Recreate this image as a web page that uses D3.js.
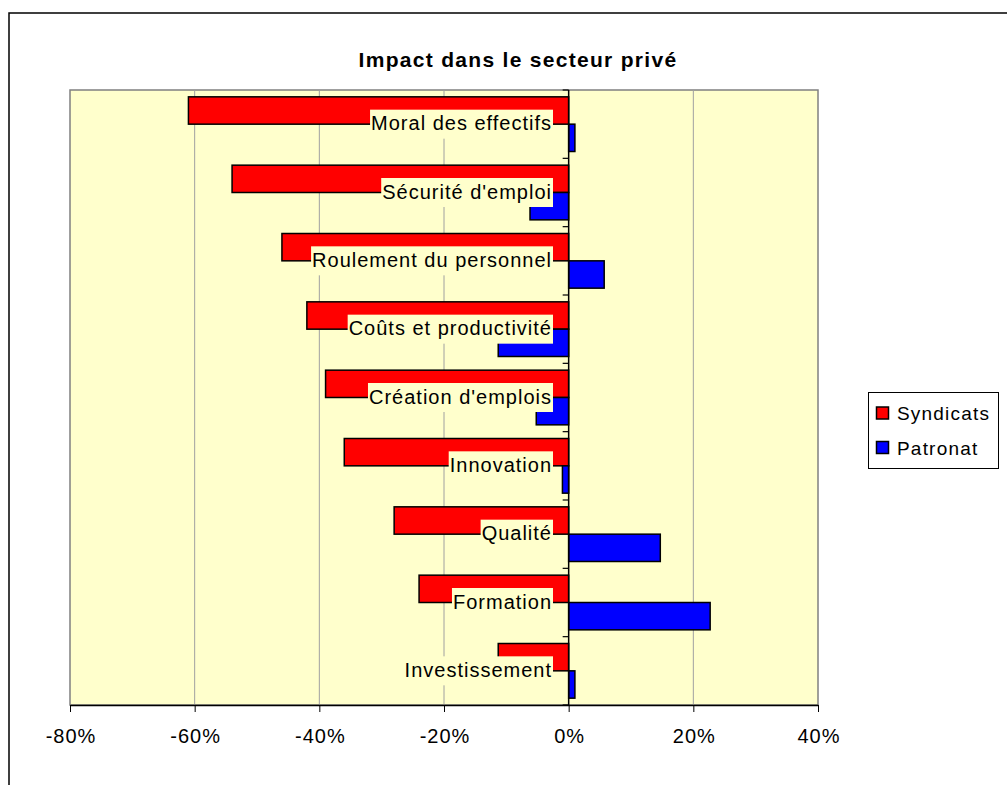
<!DOCTYPE html>
<html>
<head>
<meta charset="utf-8">
<script src="https://cdn.jsdelivr.net/npm/d3@7"></script>
<style>
  body { margin: 0; background: #fff; }
  svg { display: block; font-family: "Liberation Sans", Arial, sans-serif; }
</style>
</head>
<body>
<svg id="chart" width="1007" height="785"></svg>
<script>
// data
const categories = ["Moral des effectifs", "Sécurité d'emploi", "Roulement du personnel",
  "Coûts et productivité", "Création d'emplois", "Innovation", "Qualité", "Formation", "Investissement"];
const syndicats = [-61, -54, -46, -42, -39, -36, -28, -24, -11.3];
const patronat = [1, -6.2, 5.7, -11.3, -5.2, -1, 14.7, 22.7, 1];
const xTicks = [-80, -60, -40, -20, 0, 20, 40];
const seriesNames = ["Syndicats", "Patronat"];
const seriesColors = ["#ff0000", "#0000ff"];

const svg = d3.select("#chart");

// outer chart frame (cut by the picture edges)
svg.append("rect")
  .attr("x", 9).attr("y", 13)
  .attr("width", 1100).attr("height", 900)
  .attr("fill", "#fff").attr("stroke", "#000").attr("stroke-width", 1.5);

const plot = { left: 70, right: 818, top: 90, bottom: 705 };

const x = d3.scaleLinear().domain([-80, 40]).range([plot.left, plot.right]);
const y = d3.scaleBand().domain(categories).range([plot.top, plot.bottom]).paddingInner(0).paddingOuter(0);

// title
svg.append("text")
  .attr("x", 518).attr("y", 67)
  .attr("text-anchor", "middle")
  .attr("font-size", 21).attr("font-weight", "bold")
  .attr("letter-spacing", 1.3)
  .text("Impact dans le secteur privé");

// plot background
svg.append("rect")
  .attr("x", plot.left).attr("y", plot.top)
  .attr("width", plot.right - plot.left).attr("height", plot.bottom - plot.top)
  .attr("fill", "#ffffcc").attr("stroke", "#808080").attr("stroke-width", 1.5);

// gridlines
svg.append("g")
  .selectAll("line")
  .data(xTicks.filter(d => d !== 0 && d !== -80 && d !== 40))
  .join("line")
  .attr("x1", d => x(d)).attr("x2", d => x(d))
  .attr("y1", plot.top).attr("y2", plot.bottom)
  .attr("stroke", "#a0a0a0").attr("stroke-width", 1);

// bars
const bandH = y.bandwidth();
const barH = bandH * 0.4;
const offset = (bandH - 2 * barH) / 2;

const rows = categories.map((c, i) => ({ cat: c, vals: [syndicats[i], patronat[i]] }));

const g = svg.append("g");
rows.forEach(r => {
  r.vals.forEach((v, k) => {
    g.append("rect")
      .attr("x", Math.min(x(0), x(v)))
      .attr("y", y(r.cat) + offset + k * barH)
      .attr("width", Math.abs(x(v) - x(0)))
      .attr("height", barH)
      .attr("fill", seriesColors[k])
      .attr("stroke", "#000").attr("stroke-width", 1.5);
  });
});

// zero axis with category ticks
svg.append("line")
  .attr("x1", x(0)).attr("x2", x(0))
  .attr("y1", plot.top).attr("y2", plot.bottom)
  .attr("stroke", "#000").attr("stroke-width", 1.5);
svg.append("g")
  .selectAll("line")
  .data(d3.range(categories.length + 1))
  .join("line")
  .attr("x1", x(0) - 6).attr("x2", x(0))
  .attr("y1", i => plot.top + i * bandH).attr("y2", i => plot.top + i * bandH)
  .attr("stroke", "#000").attr("stroke-width", 1.2);

// category labels with background boxes
const labels = svg.append("g");
categories.forEach(c => {
  const cy = y(c) + offset + barH;
  const t = labels.append("text")
    .attr("x", 552).attr("y", cy + 6)
    .attr("text-anchor", "end")
    .attr("font-size", 20)
    .attr("letter-spacing", 1)
    .text(c);
  const bb = t.node().getBBox();
  labels.insert("rect", () => t.node())
    .attr("x", bb.x - 1).attr("y", cy - 14.5)
    .attr("width", bb.width + 2).attr("height", 29)
    .attr("fill", "#ffffcc");
});

// bottom axis
const xAxis = svg.append("g")
  .attr("transform", `translate(0,${plot.bottom})`)
  .call(d3.axisBottom(x).tickValues(xTicks).tickFormat(d => d + "%").tickSizeInner(7).tickSizeOuter(0).tickPadding(17));
xAxis.select(".domain").attr("stroke", "#000").attr("stroke-width", 1.5);
xAxis.selectAll(".tick line").attr("stroke", "#000");
xAxis.selectAll("text")
  .attr("font-size", 20).attr("letter-spacing", 1)
  .attr("font-family", "Liberation Sans, Arial, sans-serif").attr("fill", "#000")
  .attr("dx", 0.5);

// legend
const legend = svg.append("g");
legend.append("rect")
  .attr("x", 868.5).attr("y", 392.5).attr("width", 130).attr("height", 76)
  .attr("fill", "#fff").attr("stroke", "#000").attr("stroke-width", 1);
seriesNames.forEach((n, i) => {
  const ly = 413 + i * 34.5;
  legend.append("rect")
    .attr("x", 876.5).attr("y", ly - 6).attr("width", 12).attr("height", 12)
    .attr("fill", seriesColors[i]).attr("stroke", "#000").attr("stroke-width", 1.5);
  legend.append("text")
    .attr("x", 897).attr("y", ly + 7)
    .attr("font-size", 19).attr("letter-spacing", 1.2)
    .text(n);
});
</script>
</body>
</html>
